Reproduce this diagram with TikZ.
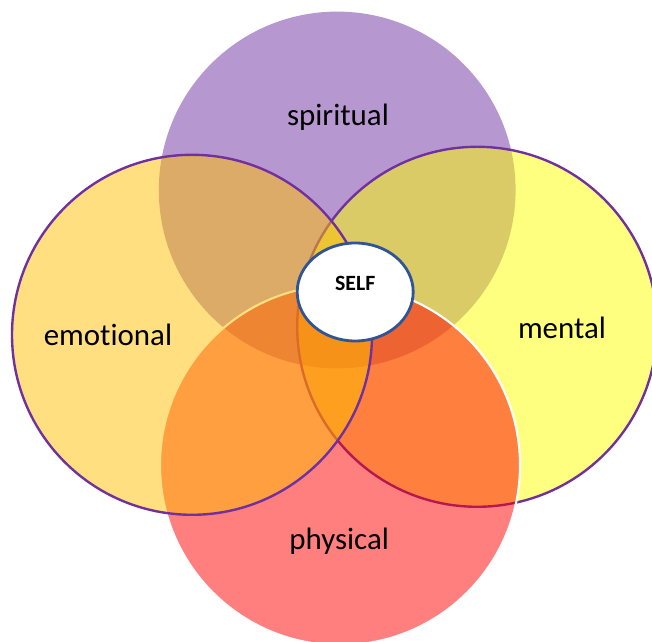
\documentclass[tikz,border=0pt]{standalone}
\usepackage{fontspec}
\setmainfont{Carlito}[Ligatures=NoCommon]
\usetikzlibrary{shapes.geometric}

\definecolor{wpurple}{HTML}{7030A0}
\definecolor{wgold}{HTML}{FFC000}
\definecolor{wyellow}{HTML}{FFFF00}
\definecolor{wred}{HTML}{FF0000}
\definecolor{wblue}{HTML}{2F5597}

\begin{document}
\begin{tikzpicture}[
  ring/.style={circle, minimum size=9cm, inner sep=0pt, fill opacity=0.5},
  word/.style={font=\fontsize{22}{26}\selectfont}
]

  % Frame
  \clip (0,0) rectangle (16.3,16.05);

  % Four overlapping circles, back to front
  \node[ring, fill=wpurple, minimum size=8.92cm] (spiritual) at (8.43,11.3) {};
  \node[ring, fill=wyellow, draw=wpurple, line width=1.7pt, draw opacity=1] (mental) at (11.93,7.88) {};
  \node[ring, fill=wred, draw=white, line width=1.5pt, draw opacity=1] (physical) at (8.5,4.42) {};
  \node[ring, fill=wgold, draw=wpurple, line width=1.7pt, draw opacity=1] (emotional) at (4.8,7.68) {};

  % Labels
  \node[word] (spirituallabel) at (8.45,13.12) {spiritual};
  \node[word] (mentallabel) at (14.05,7.85) {mental};
  \node[word] (physicallabel) at (8.48,2.52) {physical};
  \node[word] (emotionallabel) at (2.7,7.68) {emotional};

  % Centre
  \node[ellipse, draw=wblue, fill=white, line width=2pt,
        minimum width=2.9cm, minimum height=2.45cm] (self) at (8.88,8.75) {};
  \node[font=\fontsize{15.5}{18}\bfseries] (selflabel) at (8.88,8.97) {SELF};

\end{tikzpicture}
\end{document}
